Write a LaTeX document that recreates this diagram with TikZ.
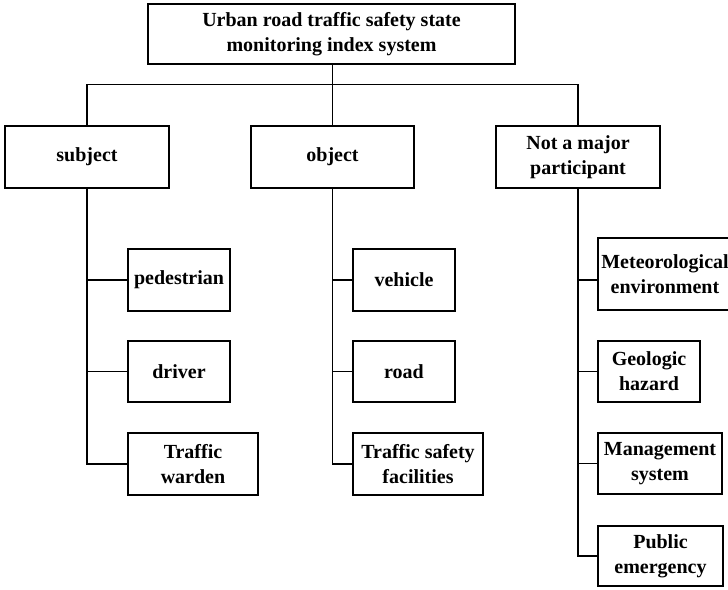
\documentclass[tikz,border=0pt]{standalone}
\usepackage{fontspec}
\setmainfont{Liberation Serif}
\begin{document}
\begin{tikzpicture}[x=1pt,y=-1pt,
  box/.style={draw, line width=1.3pt, inner sep=0pt, align=center,
    font=\fontsize{20}{25}\selectfont\bfseries},
  link/.style={line width=1.3pt}]
\clip (0,0) rectangle (728,589);
\fill[white] (0,0) rectangle (728,589);
% top
\node[box, minimum width=367pt, minimum height=60pt] (top) at (331.5,34) {Urban road traffic safety state\\monitoring index system};
% level 1
\node[box, minimum width=164pt, minimum height=62pt] (subj) at (87,157) {subject};
\node[box, minimum width=163pt, minimum height=62pt] (obj) at (332.5,157) {object};
\node[box, minimum width=164pt, minimum height=62pt] (nmp) at (578,157) {Not a major\\participant};
% subject children
\node[box, minimum width=102pt, minimum height=62pt] (ped) at (179,280) {pedestrian};
\node[box, minimum width=102pt, minimum height=61pt] (drv) at (179,371.5) {driver};
\node[box, minimum width=130pt, minimum height=62pt] (ward) at (193,464) {Traffic\\warden};
% object children
\node[box, minimum width=102pt, minimum height=62pt] (veh) at (404,280) {vehicle};
\node[box, minimum width=102pt, minimum height=61pt] (road) at (404,371.5) {road};
\node[box, minimum width=130pt, minimum height=62pt] (tsf) at (418,464) {Traffic safety\\facilities};
% not major children
\node[box, minimum width=134pt, minimum height=72pt] (met) at (665,274) {Meteorological\\environment};
\node[box, minimum width=102pt, minimum height=61pt] (geo) at (649,371.5) {Geologic\\hazard};
\node[box, minimum width=124pt, minimum height=61pt] (mgmt) at (660,463.5) {Management\\system};
\node[box, minimum width=125pt, minimum height=60pt] (pub) at (660.5,556) {Public\\emergency};
% connectors
\coordinate (bus) at (0,84.5);
\coordinate (mc) at (598,280);
\draw[link] (obj |- top.south) -- (obj |- bus);
\draw[link] (subj.north) -- (subj |- bus) -- (nmp |- bus) -- (nmp.north);
\draw[link] (obj |- bus) -- (obj.north);
% subject column
\draw[link] (subj.south) |- (ward.west);
\draw[link] (subj.south |- ped.west) -- (ped.west);
\draw[link] (subj.south |- drv.west) -- (drv.west);
% object column
\draw[link] (obj.south) |- (tsf.west);
\draw[link] (obj.south |- veh.west) -- (veh.west);
\draw[link] (obj.south |- road.west) -- (road.west);
% not-major column
\draw[link] (nmp.south) |- (pub.west);
\draw[link] (nmp.south |- mc) -- (mc);
\draw[link] (nmp.south |- geo.west) -- (geo.west);
\draw[link] (nmp.south |- mgmt.west) -- (mgmt.west);
\end{tikzpicture}
\end{document}
